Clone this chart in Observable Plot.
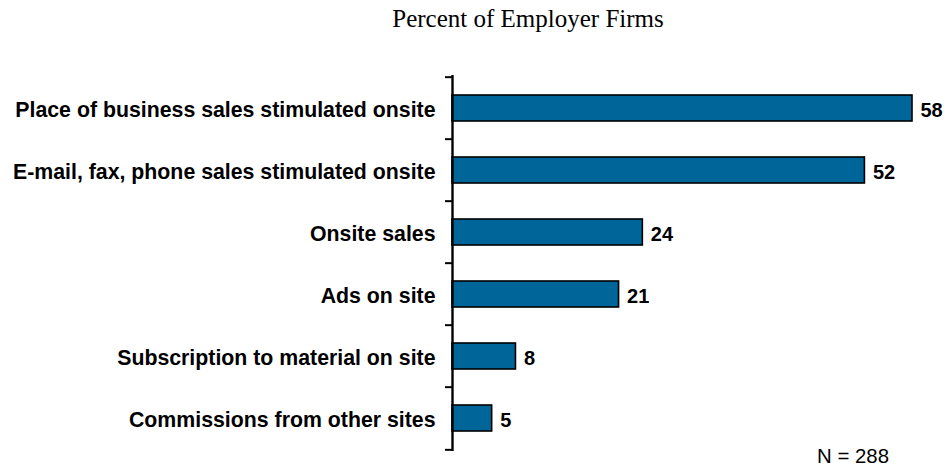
<!DOCTYPE html>
<html>
<head>
<meta charset="utf-8">
<script src="https://cdn.jsdelivr.net/npm/d3@7"></script>
<script src="https://cdn.jsdelivr.net/npm/@observablehq/plot@0.6"></script>
<style>
  html, body { margin: 0; padding: 0; background: #fff; }
  #wrap { position: relative; width: 946px; height: 468px; overflow: hidden; }
  #title { position: absolute; top: 6px; left: 528px; transform: translateX(-50%);
    font-family: "Liberation Serif", "Times New Roman", serif; font-size: 25px; line-height: 1; white-space: nowrap; color: #000; }
  #note { position: absolute; top: 446px; left: 817px;
    font-family: "Liberation Sans", Arial, sans-serif; font-size: 20.4px; line-height: 1; white-space: nowrap; color: #000; }
  #chart { position: absolute; top: 0; left: 0; }
</style>
</head>
<body>
<div id="wrap">
  <div id="title"></div>
  <div id="chart"></div>
  <div id="note"></div>
</div>
<script>
const titleText = "Percent of Employer Firms";
const noteText = "N = 288";
const categories = [
  "Place of business sales stimulated onsite",
  "E-mail, fax, phone sales stimulated onsite",
  "Onsite sales",
  "Ads on site",
  "Subscription to material on site",
  "Commissions from other sites"
];
const values = [58, 52, 24, 21, 8, 5];

const data = categories.map((c, i) => ({category: c, value: values[i]}));

const W = 946, H = 468;
const mTop = 75, mBottom = 17, mLeft = 452, mRight = 34;
const step = (H - mTop - mBottom) / categories.length;
const font = '"Liberation Sans", Arial, sans-serif';

document.getElementById("title").textContent = titleText;
document.getElementById("note").textContent = noteText;

const chart = Plot.plot({
  width: W,
  height: H,
  marginTop: mTop,
  marginBottom: mBottom,
  marginLeft: mLeft,
  marginRight: mRight,
  style: {fontFamily: font, background: "transparent", overflow: "visible"},
  x: {domain: [0, 58], axis: null},
  y: {domain: categories, paddingInner: 0.585, paddingOuter: 0.2925, align: 0.5, label: null},
  marks: [
    Plot.barX(data, {x: "value", y: "category", fill: "#006699", stroke: "#000", strokeWidth: 1.6}),
    Plot.text(data, {x: "value", y: "category", text: d => String(d.value), dx: 8, dy: 2,
      textAnchor: "start", fontSize: 20, fontWeight: "bold", fill: "#000"}),
    Plot.axisY({tickSize: 0, tickPadding: 17, fontSize: 21.3, fontWeight: "bold", dy: 2, label: null, fill: "#000"}),
    Plot.axisY({tickSize: 7, tickFormat: () => "", dy: -step / 2, label: null, stroke: "#000", strokeWidth: 2}),
    Plot.axisY([categories[categories.length - 1]], {tickSize: 7, tickFormat: () => "", dy: step / 2, label: null, stroke: "#000", strokeWidth: 2}),
    Plot.ruleX([0], {stroke: "#000", strokeWidth: 2.4})
  ]
});
document.getElementById("chart").appendChild(chart);
</script>
</body>
</html>
